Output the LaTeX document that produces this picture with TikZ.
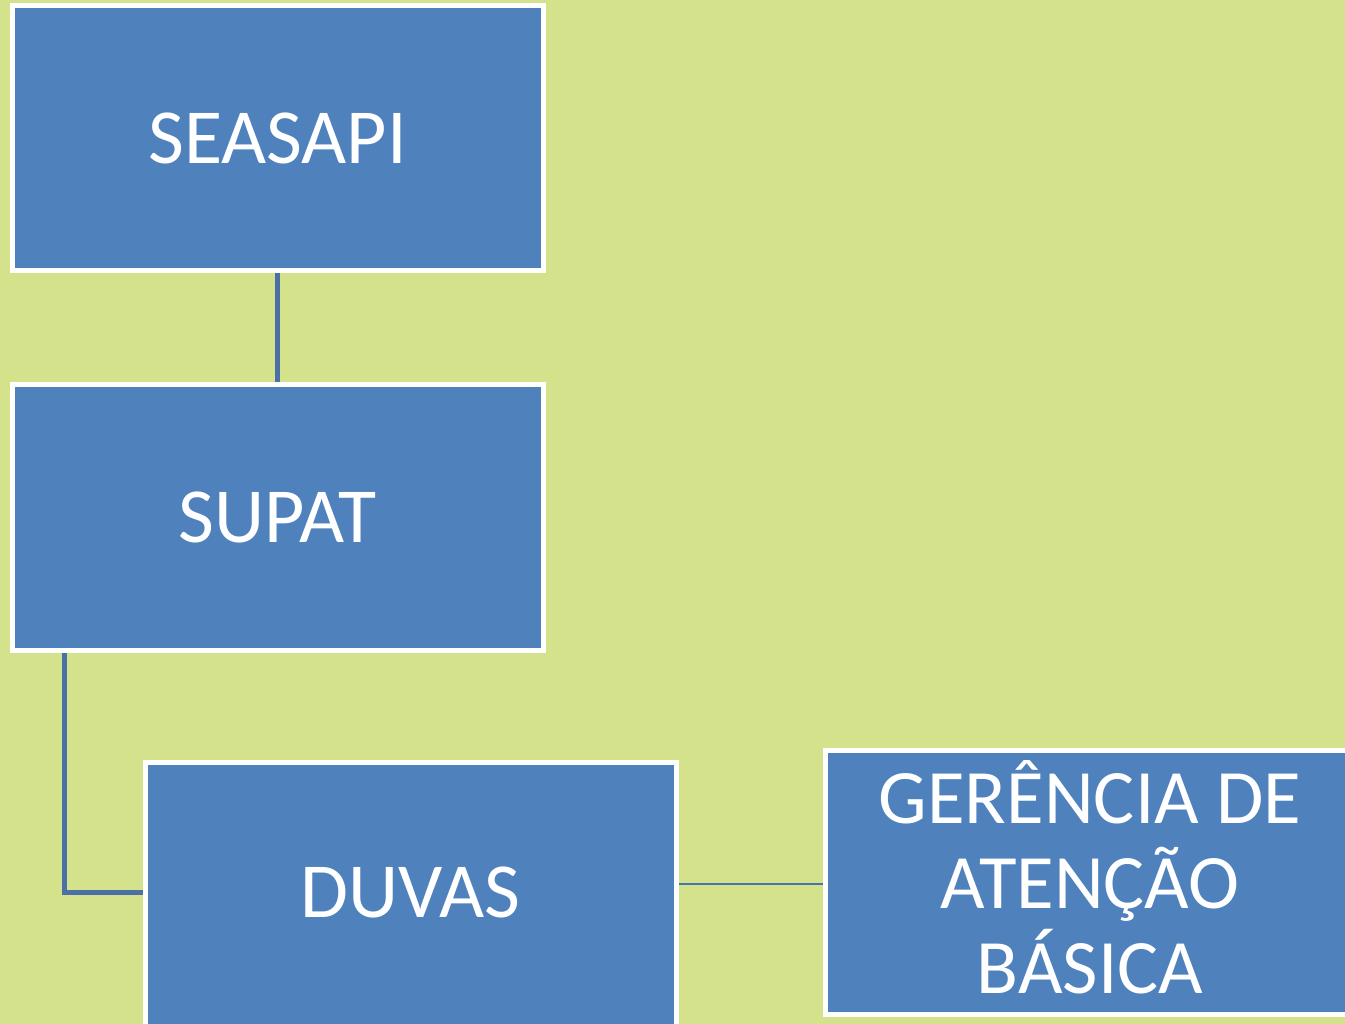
\documentclass[tikz,border=0pt]{standalone}
\usepackage{fontspec}
\setmainfont{Carlito}
\pgfdeclarelayer{bg}
\pgfdeclarelayer{lines}
\pgfsetlayers{bg,lines,main}
\definecolor{bggreen}{HTML}{D3E28B}
\definecolor{boxblue}{HTML}{4F81BD}
\definecolor{linkblue}{HTML}{4A70A6}
\tikzset{
  orgbox/.style={draw=white, line width=5pt, fill=boxblue, text=white,
    minimum width=531pt, minimum height=265pt, inner sep=0pt, align=center,
    font=\fontsize{78pt}{94pt}\selectfont},
  thick link/.style={draw=linkblue, line width=5pt},
  thin link/.style={draw=boxblue!90!black, line width=2pt}
}
\begin{document}
\begin{tikzpicture}[x=1pt,y=-1pt]
\useasboundingbox (0,0) rectangle (1345,1024);
\clip (0,0) rectangle (1345,1024);
\begin{pgfonlayer}{bg}
\fill[bggreen] (0,0) rectangle (1345,1024);
\end{pgfonlayer}
\node[orgbox] (seasapi) at (277.5,138.5) {};
\node[text=white, font=\fontsize{78pt}{94pt}\selectfont, inner sep=0pt] (seasapitext) at (277.5,138.5) {SEASAPI};
\node[orgbox] (supat) at (277.5,517.5) {SUPAT};
\node[orgbox, minimum height=268pt] (duvas) at (410.5,896) {};
\node[text=white, font=\fontsize{78pt}{94pt}\selectfont, inner sep=0pt] (duvastext) at (410.5,892) {DUVAS};
\node[orgbox, minimum width=525pt, minimum height=264pt] (ger) at (1087.5,882) {};
\node[text=white, align=center, inner sep=0pt,
  font=\fontsize{77pt}{85pt}\selectfont] (gertext) at (1090,877)
  {GERÊNCIA DE\\ATENÇÃO\\BÁSICA};
\coordinate (bend) at ([xshift=55pt]supat.south west |- duvastext);
\begin{pgfonlayer}{lines}
\draw[thick link] (seasapi.south) -- (supat.north);
\draw[thick link] ([xshift=55pt]supat.south west) -- (bend) -- (duvas.west |- bend);
\draw[thin link] (duvas.east |- ger.west) ++(0,2) coordinate (tstart) (tstart) -- (ger.west |- tstart);
\end{pgfonlayer}
\end{tikzpicture}
\end{document}
